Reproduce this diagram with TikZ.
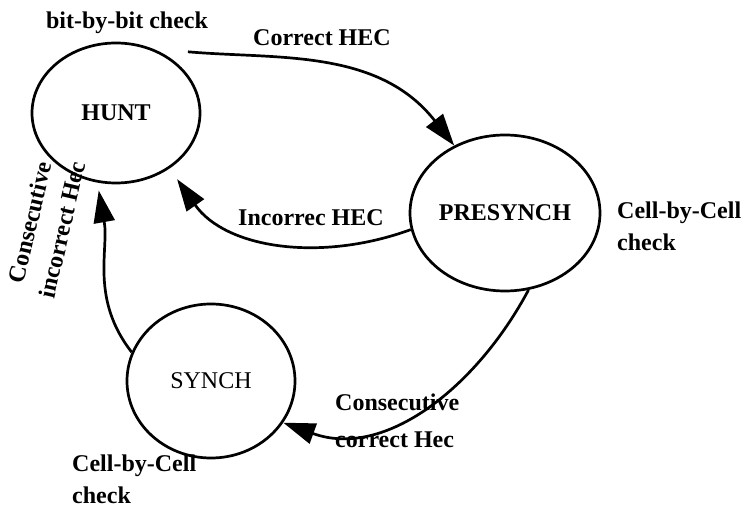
\documentclass[tikz,border=0pt]{standalone}
\usepackage{fontspec}
\setmainfont{Liberation Serif}
\usetikzlibrary{shapes.geometric,arrows.meta}
\begin{document}
\begin{tikzpicture}[x=1pt,y=1pt,
  state/.style={draw, ellipse, line width=2.7pt, inner sep=0pt},
  lbl/.style={font=\fontsize{24}{30}\selectfont\bfseries, inner sep=0pt},
  conn/.style={line width=2.7pt, -{Triangle[length=32pt,width=21pt]}}]
\useasboundingbox (0,0) rectangle (745,509);
\node[state, minimum width=168pt, minimum height=140pt, lbl] (hunt) at (116,396) {HUNT};
\node[state, minimum width=190pt, minimum height=156pt, lbl] (pre) at (505,296) {PRESYNCH};
\node[state, minimum width=168pt, minimum height=154pt, font=\fontsize{24}{30}\selectfont, inner sep=0pt] (synch) at (211,128) {SYNCH};

\node[lbl] (l1) at (127,486) {bit-by-bit check};
\node[lbl] (l2) at (322,471) {Correct HEC};
\node[lbl] (l3) at (311,291) {Incorrec HEC};
\node[lbl, align=center, rotate=77, font=\fontsize{24}{33}\selectfont\bfseries] (l4) at (46,283) {Consecutive\\incorrect Hec};
\node[lbl, align=left, anchor=west, font=\fontsize{24}{37}\selectfont\bfseries] (l5) at (335,88) {Consecutive\\correct Hec};
\node[lbl, align=left, anchor=west, font=\fontsize{24}{32}\selectfont\bfseries] (l6) at (617,283) {Cell-by-Cell\\check};
\node[lbl, align=left, anchor=west, font=\fontsize{24}{32}\selectfont\bfseries] (l7) at (72,30) {Cell-by-Cell\\check};

\draw[conn, shorten <=35pt] (hunt.60) to[out=-5,in=128] (pre.127);
\draw[conn, shorten >=13pt] (pre.190) to[out=200,in=-55] (hunt.-46);
\draw[conn, shorten >=8pt] (synch.160) to[out=128,in=-80] (hunt.-105);
\draw[conn] (pre.-73) to[out=-118,in=-20] (synch.-30);
\end{tikzpicture}
\end{document}
